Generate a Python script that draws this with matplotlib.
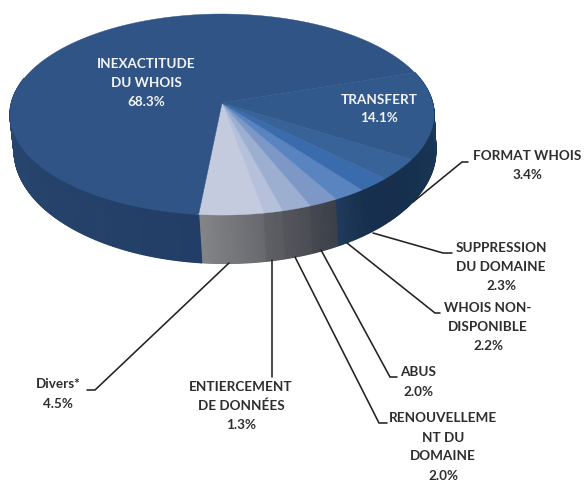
import numpy as np
import matplotlib
matplotlib.use("Agg")
import matplotlib.pyplot as plt
from matplotlib.patches import Polygon
from matplotlib.colors import to_rgb

categories = ["Divers*", "ENTIERCEMENT\nDE DONNÉES", "RENOUVELLEME\nNT DU\nDOMAINE", "ABUS",
              "WHOIS NON-\nDISPONIBLE", "SUPPRESSION\nDU DOMAINE", "FORMAT WHOIS",
              "TRANSFERT", "INEXACTITUDE\nDU WHOIS"]
values = [4.5, 1.3, 2.0, 2.0, 2.2, 2.3, 3.4, 14.1, 68.3]
top_colors = ["#c4cbde", "#b5c1da", "#9cafd1", "#7d97c7", "#5a84bf", "#3a6cad", "#376398", "#31598c", "#2f5485"]
wall_a = ["#858689", "#5f6066", "#55565c", "#45484f", "#1f3a5c", "#17304f", "#172e4d", "#16304f", "#223e66"]
wall_b = ["#68696e", "#5a5b61", "#4b4d54", "#3c404a", "#18314f", "#172e4d", "#16304f", "#1e3c60", "#2a4872"]

plt.rcParams['font.family'] = ['Lato', 'DejaVu Sans']
fig = plt.figure(figsize=(5.84, 4.83), dpi=100)
ax = fig.add_axes([0, 0, 1, 1])
ax.set_xlim(0, 584); ax.set_ylim(483, 0); ax.axis('off')

K = 0.1147

def project(theta, a, b, y0, cx):
    u, v = np.sin(theta), -np.cos(theta)
    d = 1 + K * v
    return cx + a * u / d, y0 - b * v / d

TOP = dict(a=210.6, b=99.2, y0=103, cx=222)
BOT = dict(a=209.5, b=111.5, y0=137.5, cx=225)

start = np.radians(-6.0)
spans = np.radians(np.array(values) * 3.6)
edges = start + np.concatenate([[0], np.cumsum(spans)])
last = len(values) - 1

for i in range(len(values)):
    t0, t1 = edges[i], edges[i + 1]
    if i == last:
        # the large slice: its wall is only seen from the left extreme to the front
        t0 = max(t0, np.radians(255))
    n = max(2, int(np.degrees(t1 - t0) * 2))
    ts = np.linspace(t0, t1, n)
    c0, c1 = np.array(to_rgb(wall_a[i])), np.array(to_rgb(wall_b[i]))
    for j in range(n - 1):
        x0, y0 = project(ts[j], **TOP); x1, y1 = project(ts[j + 1], **TOP)
        x2, y2 = project(ts[j + 1], **BOT); x3, y3 = project(ts[j], **BOT)
        f = j / max(1, n - 2)
        col = c1 * (1 - f) + c0 * f if i == last else c0 * (1 - f) + c1 * f
        ax.add_patch(Polygon([[x0, y0], [x1, y1], [x2, y2], [x3, y3]], closed=True,
                             fc=col, ec=col, lw=0.9, zorder=2))

for i in range(len(values)):
    ts = np.linspace(edges[i], edges[i + 1], 300)
    xs, ys = project(ts, **TOP)
    pts = np.column_stack([np.r_[TOP['cx'], xs], np.r_[TOP['y0'], ys]])
    ax.add_patch(Polygon(pts, closed=True, fc=top_colors[i], ec=top_colors[i], lw=0.3, zorder=3))

leaders = [
    [(229, 263), (95, 390), (87, 390)],
    [(272, 260), (272, 377)],
    [(295, 257), (379, 423), (387, 423)],
    [(321, 250), (390, 377), (397, 377)],
    [(347, 243), (435, 313), (440, 313)],
    [(373, 233), (443, 253), (452, 253)],
    [(413, 202), (462, 162), (468, 162)],
]
for pts in leaders:
    p = np.array(pts)
    ax.plot(p[:, 0], p[:, 1], color="#222222", lw=1.15, zorder=4, solid_capstyle='round')

label_xy = [(58, 394), (241, 406), (443, 447), (418, 382), (488, 327),
            (501, 267), (527, 165.5), (379, 109), (146, 83)]
for i, (x, y) in enumerate(label_xy):
    col = "#f2f4f8" if i >= 7 else "#2e2e2e"
    ax.text(x, y, f"{categories[i]}\n{values[i]}%", ha='center', va='center', fontsize=9.7,
            fontweight='bold', color=col, linespacing=1.7, zorder=5)

fig.savefig("out.png", dpi=100, facecolor="white")
